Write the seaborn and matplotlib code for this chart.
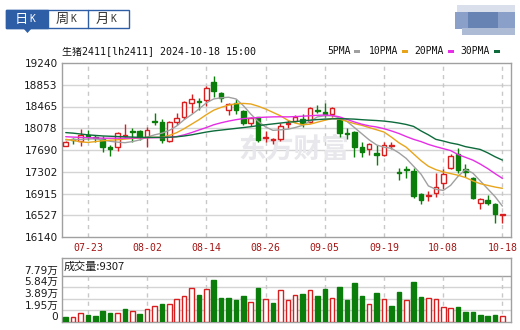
import numpy as np
import pandas as pd
import matplotlib
matplotlib.use('Agg')
import matplotlib.pyplot as plt
from matplotlib.patches import Rectangle, Polygon
import seaborn as sns

# --- DATA ---
tick_idx = [3, 11, 19, 27, 35, 43, 51, 59]
tick_lbl = ['07-23', '08-02', '08-14', '08-26', '09-05', '09-19', '10-08', '10-18']

opens = [17770, 17870, 17855, 17950, 17920, 17880, 17750, 17750, 17940, 18030,
         18030, 17915, 18190, 18190, 17845, 18195, 18270, 18520, 18560, 18575,
         18900, 18700, 18405, 18520, 18390, 18165, 18270, 17900, 17875, 17880,
         18160, 18215, 18245, 18195, 18395, 18375, 18330, 18225, 17995, 18015,
         17740, 17700, 17640, 17600, 17755, 17295, 17350, 17315, 16905, 16865,
         16930, 17110, 17365, 17620, 17350, 17185, 16740, 16800, 16730, 16540]
closes = [17835, 17860, 17955, 17940, 17905, 17750, 17705, 17985, 17960, 18015,
          17920, 18055, 18180, 17870, 18185, 18255, 18545, 18590, 18545, 18790,
          18750, 18610, 18510, 18400, 18165, 18255, 17870, 17915, 17885, 18120,
          18170, 18270, 18165, 18430, 18385, 18330, 18430, 18000, 17980, 17740,
          17660, 17795, 17600, 17780, 17765, 17285, 17340, 16875, 16800, 16875,
          17035, 17260, 17590, 17335, 17305, 16830, 16810, 16740, 16550, 16550]
highs = [17845, 17895, 18060, 18045, 17955, 17935, 17780, 18015, 18150, 18075,
         18040, 18105, 18355, 18235, 18215, 18355, 18560, 18690, 18610, 18830,
         19010, 18730, 18535, 18600, 18400, 18280, 18285, 18030, 17900, 18165,
         18220, 18310, 18330, 18460, 18490, 18535, 18460, 18255, 18075, 18035,
         17840, 17810, 17780, 17840, 17840, 17365, 17405, 17365, 16920, 16960,
         17275, 17345, 17615, 17720, 17440, 17205, 16830, 16890, 16750, 16555]
lows = [17760, 17800, 17765, 17870, 17840, 17650, 17575, 17680, 17925, 17835,
        17860, 17750, 18135, 17820, 17825, 18135, 18250, 18345, 18400, 18480,
        18640, 18550, 18315, 18340, 18140, 18120, 17840, 17830, 17800, 17855,
        18075, 18180, 18105, 18165, 18355, 18285, 18285, 17925, 17880, 17560,
        17570, 17600, 17425, 17585, 17700, 17155, 17185, 16830, 16730, 16780,
        16860, 16990, 17345, 17285, 17215, 16810, 16635, 16710, 16395, 16385]

ma5 = [17870, 17875, 17880, 17885, 17890, 17870, 17845, 17830, 17820, 17840,
       17870, 17920, 17960, 17990, 18040, 18120, 18230, 18320, 18420, 18530,
       18600, 18620, 18630, 18600, 18480, 18330, 18200, 18100, 18040, 18050,
       18060, 18090, 18130, 18200, 18280, 18300, 18300, 18260, 18200, 18090,
       17980, 17870, 17780, 17740, 17720, 17640, 17540, 17400, 17260, 17050,
       16990, 16970, 17060, 17220, 17340, 17280, 17140, 17000, 16860, 16690]
ma10 = [17880, 17860, 17835, 17825, 17840, 17855, 17865, 17872, 17885, 17895,
        17905, 17912, 17915, 17915, 17950, 18000, 18070, 18150, 18230, 18320,
        18400, 18450, 18490, 18515, 18520, 18510, 18470, 18420, 18360, 18300,
        18220, 18170, 18140, 18150, 18185, 18220, 18250, 18240, 18200, 18160,
        18130, 18090, 18050, 18010, 17920, 17820, 17740, 17620, 17500, 17400,
        17340, 17300, 17270, 17240, 17200, 17140, 17090, 17060, 17030, 17007]
ma20 = [17927, 17920, 17915, 17910, 17905, 17900, 17900, 17900, 17900, 17902,
        17905, 17908, 17910, 17912, 17915, 17930, 17960, 18000, 18046, 18090,
        18140, 18175, 18205, 18230, 18250, 18260, 18268, 18275, 18280, 18282,
        18280, 18285, 18292, 18300, 18308, 18313, 18305, 18280, 18235, 18190,
        18150, 18120, 18100, 18070, 18030, 17985, 17930, 17880, 17840, 17790,
        17750, 17715, 17680, 17610, 17560, 17510, 17440, 17360, 17270, 17185]
ma30 = [18000, 17990, 17975, 17960, 17950, 17940, 17935, 17930, 17925, 17920,
        17915, 17915, 17915, 17915, 17918, 17925, 17940, 17960, 17985, 18010,
        18030, 18045, 18060, 18075, 18090, 18105, 18125, 18140, 18155, 18170,
        18185, 18195, 18210, 18222, 18232, 18240, 18245, 18248, 18245, 18240,
        18230, 18222, 18215, 18205, 18190, 18170, 18145, 18110, 18030, 17960,
        17880, 17850, 17815, 17790, 17750, 17725, 17700, 17640, 17570, 17510]

volume = [8500, 7900, 15800, 11300, 9600, 18100, 15200, 15800, 21500, 19200,
          13000, 22600, 27700, 29900, 29900, 38400, 44600, 56500, 45200, 54800,
          70600, 41200, 41200, 37300, 44600, 33300, 57000, 39500, 32700, 53100,
          37800, 46300, 46900, 53100, 43500, 55300, 41200, 58700, 36700, 65500,
          43500, 31100, 48600, 38400, 26500, 50200, 36700, 67200, 41800, 41200,
          38400, 24800, 23100, 24800, 16400, 16400, 11300, 9600, 11300, 9307]
vol_up = [0, 1, 1, 0, 0, 0, 0, 1, 0, 1,
          0, 1, 1, 0, 1, 1, 1, 1, 0, 1,
          0, 0, 0, 0, 0, 1, 0, 1, 0, 1,
          1, 1, 0, 1, 0, 0, 1, 0, 0, 0,
          0, 1, 0, 1, 0, 0, 1, 0, 0, 1,
          1, 1, 1, 0, 0, 0, 0, 0, 0, 1]

price_ticks = [16140, 16527.5, 16915, 17302.5, 17690, 18077.5, 18465, 18852.5, 19240]
price_lbls = ['16140', '16527', '16915', '17302', '17690', '18078', '18465', '18853', '19240']
vol_ticks = [0, 19500, 38900, 58400, 77900]
vol_lbls = ['0', '1.95万', '3.89万', '5.84万', '7.79万']

# --- STYLE ---
sns.set_style('white')
plt.rcParams['font.family'] = ['DejaVu Sans', 'Noto Sans CJK SC']
MONO = ['DejaVu Sans Mono', 'Noto Sans CJK SC']
RED = '#d81e1e'
GREEN = '#0a7d0a'
MA_COLORS = ['#a0a0a0', '#e8a51c', '#e62ee6', '#0d6b3c']
GRID = '#d4d4d4'
EDGE = '#a0a0a0'

W, H = 520, 330
fig = plt.figure(figsize=(W / 100, H / 100), dpi=100)


def fx(px):
    return px / W


def fy(py):
    return 1 - py / H


idx = np.arange(len(opens))
xlim = (-0.51, 60.16)

# --- MAIN K-LINE PANEL ---
ax = fig.add_axes([fx(62), fy(237), 449 / W, 174 / H])
ax.set_xlim(*xlim)
ax.set_ylim(16140, 19240)
for y in price_ticks[1:-1]:
    ax.axhline(y, color=GRID, lw=1, zorder=1)
ax.vlines(tick_idx, 16140, 19240, colors='#c8c8c8', linestyles=(0, (3, 3)), lw=1, zorder=1)

ax.text(fx(238), fy(150), '东方财富', transform=fig.transFigure, fontsize=20,
        fontweight='bold', color='#e8e8ec', va='center', ha='left',
        family=['Noto Sans CJK SC'], zorder=1.5)

for i in idx:
    o, c, h, l = opens[i], closes[i], highs[i], lows[i]
    up = c >= o
    col = RED if up else GREEN
    ax.vlines(i, l, h, colors=col, lw=1, zorder=2)
    body = max(abs(c - o), 18)
    ax.bar(i, body, bottom=min(o, c), width=0.62,
           facecolor='white' if up else GREEN, edgecolor=col, linewidth=1, zorder=3)

for ma, colr in zip([ma5, ma10, ma20, ma30], MA_COLORS):
    sns.lineplot(x=idx, y=ma, ax=ax, color=colr, linewidth=1, legend=False, zorder=4)

ax.set_yticks(price_ticks)
ax.set_yticklabels(price_lbls, fontsize=7.6, color='#1a1a1a')
ax.set_xticks(tick_idx)
ax.set_xticklabels(tick_lbl, fontsize=7.1, color='#a31515', family=MONO)
ax.tick_params(length=0, pad=3)
ax.tick_params(axis='x', pad=4)
ax.set_xlabel('')
ax.set_ylabel('')
for s in ax.spines.values():
    s.set_color(EDGE)
    s.set_linewidth(1)

# --- VOLUME PANEL ---
axv = fig.add_axes([fx(62), fy(322), 449 / W, 64 / H])
axv.set_xlim(*xlim)
axv.set_ylim(0, 77900 * 63.7 / 46)
for y in vol_ticks[1:-1]:
    axv.axhline(y, color=GRID, lw=1, zorder=1)
axv.axhline(vol_ticks[-1], color=EDGE, lw=1, zorder=1)
axv.vlines(tick_idx, 0, vol_ticks[-1], colors='#c8c8c8', linestyles=(0, (3, 3)), lw=1, zorder=1)
for i in idx:
    if vol_up[i]:
        axv.bar(i, volume[i], width=0.62, facecolor='white', edgecolor=RED, linewidth=1, zorder=3)
    else:
        axv.bar(i, volume[i], width=0.62, facecolor=GREEN, edgecolor=GREEN, linewidth=1, zorder=3)
axv.set_xticks([])
axv.set_yticks([])
for v, t in zip(vol_ticks, vol_lbls):
    axv.text(-0.008, v, t, transform=axv.get_yaxis_transform(), ha='right', va='bottom',
             fontsize=7.6, color='#1a1a1a')
axv.text(fx(64), fy(266.5), '成交量:9307', transform=fig.transFigure, fontsize=8,
         va='center', ha='left', color='#1a1a1a', family=['Noto Sans CJK SC', 'DejaVu Sans'])
for s in axv.spines.values():
    s.set_color(EDGE)
    s.set_linewidth(1)

# --- HEADER ---
fig.text(fx(62), fy(51.5), '生猪2411[lh2411] 2024-10-18 15:00', family=MONO,
         fontsize=7.2, va='center', ha='left', color='#111111')

legend_items = [('5PMA', 327, 354), ('10PMA', 369, 402), ('20PMA', 414, 448), ('30PMA', 460, 494)]
for (name, tx, mx), colr in zip(legend_items, MA_COLORS):
    fig.text(fx(tx), fy(51.5), name, family=MONO, fontsize=7.0, va='center', ha='left', color='#111111')
    fig.patches.append(Rectangle((fx(mx), fy(53)), 5.5 / W, 3 / H, transform=fig.transFigure,
                                 facecolor=colr, edgecolor='none'))

# tabs 日K 周K 月K
BLUE = '#2d5ea6'
fig.patches.append(Rectangle((fx(6), fy(28)), 123 / W, 18 / H, transform=fig.transFigure,
                             facecolor='white', edgecolor=BLUE, linewidth=1))
fig.patches.append(Rectangle((fx(6), fy(28)), 42 / W, 18 / H, transform=fig.transFigure,
                             facecolor=BLUE, edgecolor=BLUE, linewidth=1))
fig.patches.append(Polygon([(fx(23), fy(28)), (fx(32), fy(28)), (fx(27.5), fy(33))],
                           closed=True, transform=fig.transFigure, facecolor=BLUE, edgecolor='none'))
fig.lines.append(plt.Line2D([fx(88), fx(88)], [fy(10), fy(28)], transform=fig.transFigure,
                            color=BLUE, lw=1))
for lab, x0, colr in [('日', 15, 'white'), ('周', 56, '#333333'), ('月', 96, '#333333')]:
    fig.text(fx(x0), fy(19), lab, fontsize=9.5, va='center', ha='left', color=colr,
             family=['Noto Sans CJK SC'])
    fig.text(fx(x0 + 14), fy(19.5), 'K', fontsize=7, va='center', ha='left', color=colr, family=MONO)

# blurred block top-right
for (x0, y0, w, h, c) in [(457, 5, 58, 8, '#d9e0ec'), (455, 12, 60, 17, '#8aa0c8'),
                          (468, 12, 30, 17, '#6783b4'), (462, 28, 53, 7, '#adbbd4')]:
    fig.patches.append(Rectangle((fx(x0), fy(y0 + h)), w / W, h / H, transform=fig.transFigure,
                                 facecolor=c, edgecolor='none'))

fig.savefig('out.png', dpi=100)
